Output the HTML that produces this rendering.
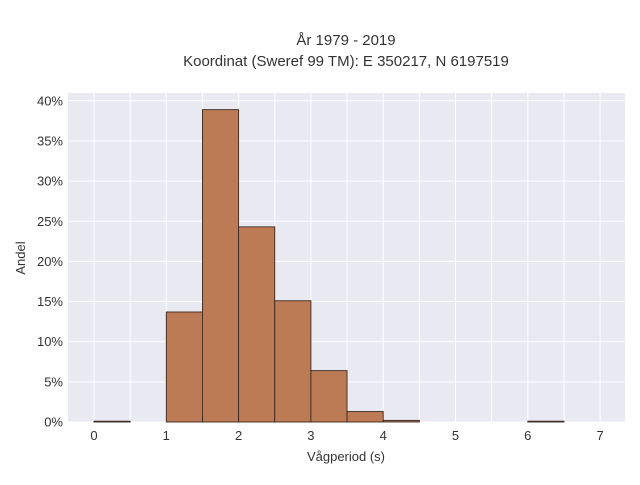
<!DOCTYPE html>
<html><head><meta charset="utf-8"><style>
body{margin:0;background:#fff;font-family:"Liberation Sans",sans-serif;}
svg text{font-family:"Liberation Sans",sans-serif;fill:#333;}
</style></head><body>
<svg id="c" width="640" height="480">
<text x="346" y="45" text-anchor="middle" font-size="15">År 1979 - 2019</text>
<text x="346" y="66" text-anchor="middle" font-size="15">Koordinat (Sweref 99 TM): E 350217, N 6197519</text>
<rect x="68" y="93" width="557" height="329" fill="#e9e9f1"/>
<g id="grid"></g><g id="bars"></g><g id="ticks"></g>
<text x="346" y="461" text-anchor="middle" font-size="13">Vågperiod (s)</text>
<text transform="translate(25,258) rotate(-90)" text-anchor="middle" font-size="13">Andel</text>
</svg>
<script>
const binStarts=[0,1,1.5,2,2.5,3,3.5,4,6];
const binShares=[0.1,13.7,38.9,24.3,15.1,6.4,1.3,0.2,0.1];
const xTicks=[0,1,2,3,4,5,6,7];
const yTicks=[0,5,10,15,20,25,30,35,40];
const binWidth=0.5;
const NS="http://www.w3.org/2000/svg";
const X=v=>94+v*72.3, Y=v=>422-v*8.03;
const grid=document.getElementById('grid'),bars=document.getElementById('bars'),ticks=document.getElementById('ticks');
function mk(t,a,p){const e=document.createElementNS(NS,t);for(const k in a)e.setAttribute(k,a[k]);p.appendChild(e);return e;}
for(let v=-0.5;v<=7.5;v+=0.5){const x=X(v);if(x<68||x>625)continue;
 const l=mk('line',{x1:x,x2:x,y1:93,y2:422,stroke:'#fff','stroke-width':1},grid);
 
 }
yTicks.forEach(v=>{const l=mk('line',{x1:68,x2:625,y1:Y(v),y2:Y(v),stroke:'#fff','stroke-width':1},grid);
 
 
 const t=mk('text',{x:63,y:Y(v)+4.5,'text-anchor':'end','font-size':13},ticks);t.textContent=v+'%';
 
 });
xTicks.forEach(v=>{const t=mk('text',{x:X(v),y:440,'text-anchor':'middle','font-size':13},ticks);t.textContent=v;
 
 });
binStarts.forEach((s,i)=>{const y=Y(binShares[i]);
 const r=mk('rect',{x:X(s),y:y,width:X(s+binWidth)-X(s),height:422-y,fill:'#bc7a55',stroke:'#3a2a22','stroke-width':0.9},bars);
 
 });
</script>
</body></html>
